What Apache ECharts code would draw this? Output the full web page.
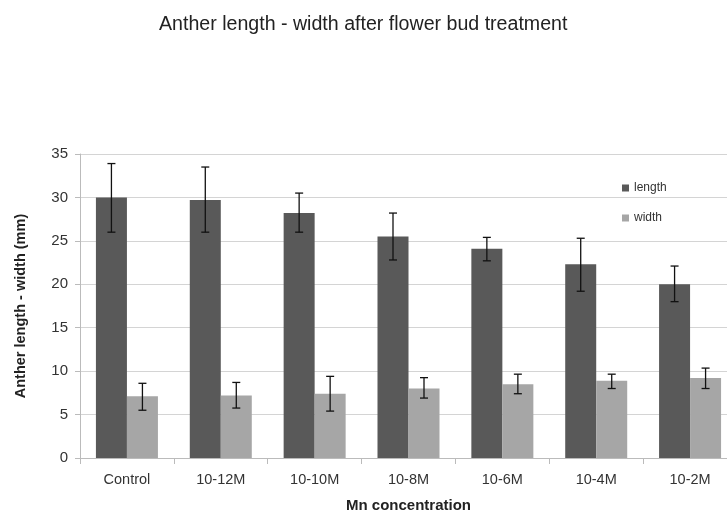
<!DOCTYPE html>
<html>
<head>
<meta charset="utf-8">
<script src="https://cdn.jsdelivr.net/npm/echarts@6/dist/echarts.min.js"></script>
<style>
html,body{margin:0;padding:0;background:#fff;overflow:hidden;}
#chart{width:727px;height:513px;}
</style>
</head>
<body>
<div id="chart"></div>
<script>
var categories = ['Control', '10-12M', '10-10M', '10-8M', '10-6M', '10-4M', '10-2M'];
var lengthValues = [30.0, 29.7, 28.2, 25.5, 24.1, 22.3, 20.0];
var lengthErrHigh = [33.9, 33.5, 30.5, 28.2, 25.4, 25.3, 22.1];
var lengthErrLow = [26.0, 26.0, 26.0, 22.8, 22.7, 19.2, 18.0];
var widthValues = [7.1, 7.2, 7.4, 8.0, 8.5, 8.9, 9.2];
var widthErrHigh = [8.6, 8.7, 9.4, 9.25, 9.65, 9.65, 10.35];
var widthErrLow = [5.5, 5.75, 5.4, 6.9, 7.4, 8.0, 8.0];
var yTicks = [0, 5, 10, 15, 20, 25, 30, 35];

var BAR_W = 31;
var FONT = '"Liberation Sans", Arial, sans-serif';

function errData(hi, lo) {
  return categories.map(function (c, i) { return [i, hi[i], lo[i]]; });
}
function errRender(offset) {
  return function (params, api) {
    var i = api.value(0);
    var top = api.coord([i, api.value(1)]);
    var bot = api.coord([i, api.value(2)]);
    var x = top[0] + offset;
    var cap = 4;
    var st = { stroke: '#111', lineWidth: 1.3 };
    return {
      type: 'group',
      children: [
        { type: 'line', shape: { x1: x, y1: top[1], x2: x, y2: bot[1] }, style: st },
        { type: 'line', shape: { x1: x - cap, y1: top[1], x2: x + cap, y2: top[1] }, style: st },
        { type: 'line', shape: { x1: x - cap, y1: bot[1], x2: x + cap, y2: bot[1] }, style: st }
      ]
    };
  };
}

var chart = echarts.init(document.getElementById('chart'), null, { renderer: 'canvas' });
chart.setOption({
  animation: false,
  backgroundColor: '#fff',
  textStyle: { fontFamily: FONT },
  title: {
    text: 'Anther length - width after flower bud treatment',
    left: 154,
    top: 10,
    textStyle: { fontFamily: FONT, fontSize: 19.6, fontWeight: 'normal', color: '#222' }
  },
  legend: {
    orient: 'vertical',
    left: 617,
    top: 177,
    itemWidth: 7,
    itemHeight: 7,
    itemGap: 18,
    icon: 'rect',
    data: ['length', 'width'],
    textStyle: { fontFamily: FONT, fontSize: 12, color: '#333' }
  },
  grid: { left: 80, right: -10, top: 154, bottom: 55, containLabel: false, outerBoundsMode: 'none' },
  xAxis: {
    type: 'category',
    data: categories,
    name: 'Mn concentration',
    nameLocation: 'middle',
    nameGap: 40,
    nameTextStyle: { fontFamily: FONT, fontSize: 15, fontWeight: 'bold', color: '#222' },
    axisLine: { lineStyle: { color: '#bbb', width: 1 } },
    axisTick: { show: true, length: 6, lineStyle: { color: '#bbb' } },
    axisLabel: { fontFamily: FONT, fontSize: 14.5, color: '#333', margin: 14 },
    splitLine: { show: false }
  },
  yAxis: {
    type: 'value',
    min: yTicks[0],
    max: yTicks[yTicks.length - 1],
    interval: 5,
    name: 'Anther length - width (mm)',
    nameLocation: 'middle',
    nameGap: 52,
    nameTextStyle: { fontFamily: FONT, fontSize: 14.5, fontWeight: 'bold', color: '#222' },
    axisLine: { show: true, lineStyle: { color: '#bbb', width: 1 } },
    axisTick: { show: true, length: 5, lineStyle: { color: '#bbb' } },
    axisLabel: { fontFamily: FONT, fontSize: 15, color: '#333', margin: 12 },
    splitLine: { show: true, lineStyle: { color: '#d4d4d4', width: 1 } }
  },
  series: [
    {
      name: 'length',
      type: 'bar',
      data: lengthValues,
      barWidth: BAR_W,
      barGap: '0%',
      itemStyle: { color: '#595959' }
    },
    {
      name: 'width',
      type: 'bar',
      data: widthValues,
      barWidth: BAR_W,
      barGap: '0%',
      itemStyle: { color: '#a6a6a6' }
    },
    {
      name: 'lengthErr',
      type: 'custom',
      data: errData(lengthErrHigh, lengthErrLow),
      encode: { x: 0, y: [1, 2] },
      renderItem: errRender(-BAR_W / 2),
      z: 10,
      silent: true
    },
    {
      name: 'widthErr',
      type: 'custom',
      data: errData(widthErrHigh, widthErrLow),
      encode: { x: 0, y: [1, 2] },
      renderItem: errRender(BAR_W / 2),
      z: 10,
      silent: true
    }
  ]
});
</script>
</body>
</html>
